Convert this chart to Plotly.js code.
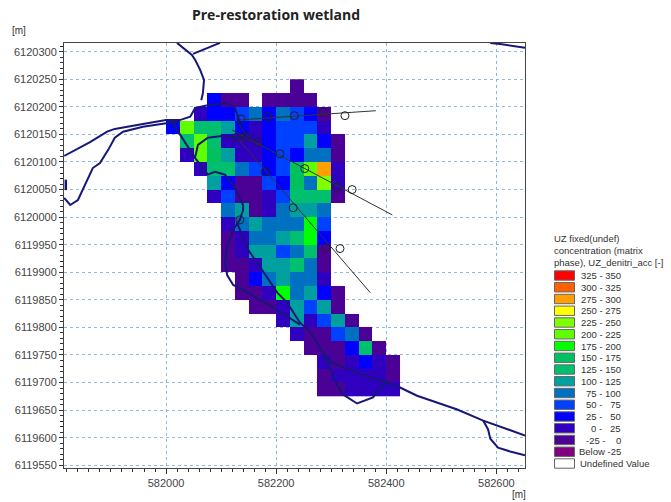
<!DOCTYPE html>
<html>
<head>
<meta charset="utf-8">
<script src="https://cdn.plot.ly/plotly-3.0.1.min.js"></script>
<style>html,body{margin:0;padding:0;background:#fff}</style>
</head>
<body>
<div id="chart" style="width:671px;height:502px"></div>
<script>
// class mid-point values of the fixed concentration map
const n = null;
const P = -12, N = 12, B = 37, M = 62, C = 87, T = 112, G = 137, H = 162, L = 187, Y = 212, W = 237, O = 287;

const cellX = [582012.5,582037.5,582062.5,582087.5,582112.5,582137.5,582162.5,582187.5,582212.5,582237.5,582262.5,582287.5,582312.5,582337.5,582362.5,582387.5,582412.5];
const cellY = [6120237.5,6120212.5,6120187.5,6120162.5,6120137.5,6120112.5,6120087.5,6120062.5,6120037.5,6120012.5,6119987.5,6119962.5,6119937.5,6119912.5,6119887.5,6119862.5,6119837.5,6119812.5,6119787.5,6119762.5,6119737.5,6119712.5,6119687.5];

const row01 = [n,n,n,n,n,n,n,n,n,P,n,n,n,n,n,n,n];
const row02 = [n,n,n,B,P,P,n,P,P,P,P,n,n,n,n,n,n];
const row03 = [n,n,N,B,B,M,C,B,C,M,B,P,n,n,n,n,n];
const row04 = [B,Y,G,G,T,B,N,B,M,M,M,N,n,n,n,n,n];
const row05 = [n,G,Y,G,N,N,N,B,M,M,T,B,P,n,n,n,n];
const row06 = [n,N,Y,H,T,N,N,B,M,B,C,C,P,n,n,n,n];
const row07 = [n,n,N,G,G,C,M,B,M,H,Y,O,N,n,n,n,n];
const row08 = [n,n,n,T,B,P,P,M,B,H,C,W,N,n,n,n,n];
const row09 = [n,n,n,N,M,P,P,N,M,G,G,G,P,n,n,n,n];
const row10 = [n,n,n,n,C,T,P,N,C,T,T,C,n,n,n,n,n];
const row11 = [n,n,n,n,N,C,T,C,C,C,L,M,n,n,n,n,n];
const row12 = [n,n,n,n,P,N,C,C,T,G,L,B,n,n,n,n,n];
const row13 = [n,n,n,n,P,N,T,T,M,C,G,P,n,n,n,n,n];
const row14 = [n,n,n,n,P,P,N,T,T,G,C,P,n,n,n,n,n];
const row15 = [n,n,n,n,n,P,B,C,T,C,C,N,n,n,n,n,n];
const row16 = [n,n,n,n,n,P,P,N,L,C,T,B,P,n,n,n,n];
const row17 = [n,n,n,n,n,n,P,P,N,T,M,T,P,n,n,n,n];
const row18 = [n,n,n,n,n,n,n,n,N,T,N,M,T,P,n,n,n];
const row19 = [n,n,n,n,n,n,n,n,n,N,P,P,M,C,P,n,n];
const row20 = [n,n,n,n,n,n,n,n,n,n,P,P,P,B,G,P,n];
const row21 = [n,n,n,n,n,n,n,n,n,n,n,N,P,N,B,N,P];
const row22 = [n,n,n,n,n,n,n,n,n,n,n,P,N,N,N,N,P];
const row23 = [n,n,n,n,n,n,n,n,n,n,n,P,P,N,N,N,N];

// river and stream courses (map coordinates, metres)
const riverAX = [581815,581862,581893,581907,581958,582000,582025,582044,582053,582076,582111,582125,582131,582134,582147];
const riverAY = [6120111,6120136,6120155,6120160,6120169,6120176,6120176,6120182,6120198,6120203,6120207,6120198,6120182,6120167,6120145];
const riverBX = [581815,581826,581840,581853,581867,581880,581895,581907,581922,581958,582000,582025];
const riverBY = [6120035,6120022,6120031,6120059,6120089,6120098,6120122,6120144,6120155,6120164,6120171,6120174];
const stubX = [581818,581818];
const stubY = [6120068,6120049];
const riverCX = [582011,582022,582053,582076,582089,582107,582125,582140,582140,582134,582122,582111,582107,582111,582122,582140,582202,582243];
const riverCY = [6120174,6120155,6120107,6120077,6120082,6120077,6120053,6120022,6120013,6119995,6119977,6119946,6119917,6119895,6119877,6119868,6119832,6119805];
const riverDX = [582129,582149,582174,582202,582220,582243,582262,582285,582302,582371,582401,582425,582456,582529,582576,582652];
const riverDY = [6119990,6119941,6119905,6119863,6119845,6119809,6119792,6119754,6119736,6119709,6119700,6119691,6119676,6119651,6119631,6119604];
const riverEX = [582285,582298,582312,582322,582347,582376,582394,582401];
const riverEY = [6119754,6119723,6119693,6119678,6119662,6119673,6119696,6119700];
const riverFX = [582576,582585,582589,582603,582625,582652];
const riverFY = [6119631,6119615,6119598,6119582,6119575,6119568];
const riverGX = [582053,582058,582076,582102,582125,582147,582167];
const riverGY = [6120109,6120131,6120144,6120147,6120144,6120145,6120136];
const riverHX = [582020,582047,582053,582062,582069,582067,582064];
const riverHY = [6120316,6120294,6120285,6120267,6120249,6120225,6120212];
const riverIX = [582098,582049];
const riverIY = [6120316,6120296];
const riverJX = [582589,582607,582652];
const riverJY = [6120316,6120314,6120307];

// transects and observation wells
const transect1X = [582129,582381];
const transect1Y = [6120176,6120193];
const transect2X = [582120,582411];
const transect2Y = [6120158,6120004];
const transect3X = [582125,582371];
const transect3Y = [6120149,6119863];
const wellX = [582136,582185,582233,582285,582325,582129,582147,582167,582207,582252,582311,582338,582180,582231,582134,582291,582316];
const wellY = [6120178,6120182,6120184,6120191,6120184,6120145,6120145,6120136,6120115,6120088,6120055,6120050,6120082,6120017,6119995,6119944,6119943];

// legend
const legendLabels = ['325 - 350','300 - 325','275 - 300','250 - 275','225 - 250','200 - 225','175 - 200','150 - 175','125 - 150','100 - 125','75 - 100','50 -   75','25 -   50','0 -   25','-25 -    0','Below -25'];
const legendColors = ['#ff0000','#ff6000','#ffa000','#ffff00','#80ff00','#60ff00','#00ff00','#00c060','#00c070','#00a0a0','#0070c0','#0040ff','#0000ff','#3000c0','#4b0096','#800080'];
const legendTitle = ['UZ fixed(undef)','concentration (matrix','phase), UZ_denitri_acc [-]'];
const xTicks0 = 582000, yTicks0 = 6119550;

const W0 = 671, H0 = 502, ml = 64, mr = 146, mt = 43, mb = 34;
const pw = W0 - ml - mr, ph = H0 - mt - mb;
const px = v => (v - ml) / pw;
const py = v => (H0 - mb - v) / ph;

const classes = legendColors.slice().reverse();
const colorscale = [];
classes.forEach((c, i) => { colorscale.push([i / 16, c], [(i + 1) / 16, c]); });

const navy = '#17177a';
const river = (x, y, w) => ({x, y, type: 'scatter', mode: 'lines', hoverinfo: 'skip', showlegend: false, line: {color: navy, width: w || 2}});
const thin = (x, y) => ({x, y, type: 'scatter', mode: 'lines', hoverinfo: 'skip', showlegend: false, line: {color: '#333', width: 1}});

const traces = [
  {type: 'heatmap', x: cellX, y: cellY,
   z: [row01,row02,row03,row04,row05,row06,row07,row08,row09,row10,row11,row12,row13,row14,row15,row16,row17,row18,row19,row20,row21,row22,row23],
   zmin: -50, zmax: 350, colorscale, showscale: false, hoverongaps: false},
  thin(transect1X, transect1Y), thin(transect2X, transect2Y), thin(transect3X, transect3Y),
  river(riverAX, riverAY), river(riverBX, riverBY), river(stubX, stubY, 2.5), river(riverCX, riverCY),
  river(riverDX, riverDY), river(riverEX, riverEY), river(riverFX, riverFY), river(riverGX, riverGY),
  river(riverHX, riverHY), river(riverIX, riverIY), river(riverJX, riverJY),
  {x: wellX, y: wellY, type: 'scatter', mode: 'markers', showlegend: false, hoverinfo: 'skip',
   marker: {symbol: 'circle-open', size: 8, color: '#222', line: {width: 1, color: '#222'}}}
];

const annotations = [], shapes = [];
const txt = (x, y, text, anchor, size) => annotations.push({xref: 'paper', yref: 'paper', x: px(x), y: py(y), text, showarrow: false, xanchor: anchor || 'left', yanchor: 'middle', borderpad: 0, font: {family: 'Liberation Sans, Arial, sans-serif', size: size || 9.5, color: '#333'}});

txt(11, 30, '[m]', 'left', 10);
txt(511, 494, '[m]', 'left', 10);
legendTitle.forEach((t, i) => txt(553, 238 + i * 12, t, 'left', 9.5));
const rowH = 11.75, top0 = 275.5;
legendLabels.forEach((t, i) => {
  const c = top0 + i * rowH;
  shapes.push({type: 'rect', xref: 'paper', yref: 'paper', x0: px(554.5), x1: px(574.5), y0: py(c - 4.7), y1: py(c + 4.7), fillcolor: legendColors[i], line: {color: '#666', width: 1}});
  txt(622, c, t, 'right', 9.5);
});
const cu = top0 + 16 * rowH;
shapes.push({type: 'rect', xref: 'paper', yref: 'paper', x0: px(554.5), x1: px(574.5), y0: py(cu - 4.7), y1: py(cu + 4.7), fillcolor: '#ffffff', line: {color: '#666', width: 1}});
txt(579, cu, 'Undefined Value', 'left', 9.5);

const tickFont = {family: 'Liberation Sans, Arial, sans-serif', size: 11, color: '#444'};
const gridCol = '#8dbbd8';
const layout = {
  width: W0, height: H0,
  margin: {l: ml, r: mr, t: mt, b: mb, pad: 0},
  paper_bgcolor: '#fff', plot_bgcolor: '#fff',
  title: {text: '<b>Pre-restoration wetland</b>', x: 276 / W0, xref: 'container', xanchor: 'center', y: 1 - 15 / H0, yanchor: 'middle',
          font: {family: 'Open Sans, sans-serif', size: 14, color: '#222'}},
  xaxis: {range: [581814.7, 582652], tickmode: 'linear', tick0: xTicks0, dtick: 200, tickformat: 'd', tickfont: tickFont,
          showgrid: true, gridcolor: gridCol, griddash: 'dot', gridwidth: 1.3, zeroline: false,
          ticks: 'outside', ticklen: 5, tickcolor: '#333', showline: true, linecolor: '#444', linewidth: 1, mirror: true, automargin: false,
          minor: {dtick: 20, tick0: xTicks0, ticks: 'outside', ticklen: 3, tickcolor: '#333', showgrid: false}},
  yaxis: {range: [6119545, 6120315.8], tickmode: 'linear', tick0: yTicks0, dtick: 50, tickformat: 'd', tickfont: tickFont,
          showgrid: true, gridcolor: gridCol, griddash: 'dot', gridwidth: 1.3, zeroline: false,
          ticks: 'outside', ticklen: 4, tickcolor: '#333', showline: true, linecolor: '#444', linewidth: 1, mirror: true, automargin: false,
          minor: {dtick: 10, tick0: yTicks0, ticks: 'outside', ticklen: 3, tickcolor: '#333', showgrid: false}},
  annotations, shapes, showlegend: false
};
Plotly.newPlot('chart', traces, layout, {displayModeBar: false, responsive: false});
</script>
</body>
</html>
